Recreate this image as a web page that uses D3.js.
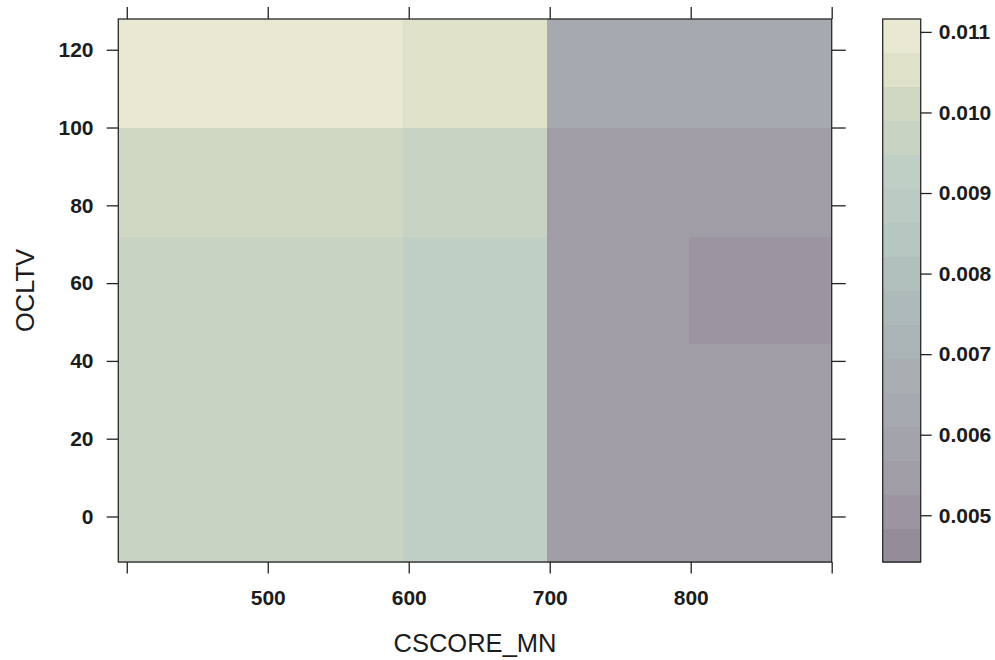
<!DOCTYPE html>
<html>
<head>
<meta charset="utf-8">
<script src="https://cdn.jsdelivr.net/npm/d3@7"></script>
<style>
  html, body { margin: 0; padding: 0; background: #ffffff; }
  svg { display: block; }
  text { font-family: "Liberation Sans", Arial, Helvetica, sans-serif; fill: #1c1c1c; }
</style>
</head>
<body>
<svg id="chart" width="995" height="660"></svg>
<script>
// ---------------- data ----------------
const xBreaks = [394, 596, 698, 799, 900];          // CSCORE_MN cell edges
const yBreaks = [-11.7, 44.5, 72, 100, 127.9];      // OCLTV cell edges
// values[row][col], row 0 = bottom
const row0 = [0.0095, 0.0093, 0.0056, 0.0056];
const row1 = [0.0095, 0.0093, 0.0056, 0.0051];
const row2 = [0.0101, 0.0097, 0.0056, 0.0056];
const row3 = [0.0110, 0.0106, 0.0064, 0.0063];
const values = [row0, row1, row2, row3];

const xTicks = [400, 500, 600, 700, 800, 900];
const xTickLabels = [500, 600, 700, 800];
const yTicks = [0, 20, 40, 60, 80, 100, 120];
const colorTicks = [0.005, 0.006, 0.007, 0.008, 0.009, 0.010, 0.011];
const colorDomain = [0.00442, 0.01116];
const palette = [
  "#958c99", "#9c94a0", "#a09da7", "#a3a3ab", "#a6a9af", "#a8aeb2",
  "#aab4b6", "#adbab9", "#b1c0bd", "#b6c6c1", "#bbcbc4", "#c0cfc5",
  "#c8d3c3", "#d0d8c4", "#dfe2c9", "#e9e8d2"
];
const xTitle = "CSCORE_MN";
const yTitle = "OCLTV";

// ---------------- layout ----------------
const svg = d3.select("#chart");
const P = { left: 118.3, right: 831.7, top: 19, bottom: 562 };
const CB = { left: 882.7, right: 920.7 };

const x = d3.scaleLinear().domain([xBreaks[0], xBreaks[xBreaks.length - 1]]).range([P.left, P.right]);
const y = d3.scaleLinear().domain([yBreaks[0], yBreaks[yBreaks.length - 1]]).range([P.bottom, P.top]);
const color = d3.scaleQuantize().domain(colorDomain).range(palette);
const cy = d3.scaleLinear().domain(colorDomain).range([P.bottom, P.top]);

// cells
const cells = [];
values.forEach((row, r) => row.forEach((v, c) => cells.push({ r, c, v })));
svg.append("g").selectAll("rect").data(cells).join("rect")
  .attr("x", d => x(xBreaks[d.c]))
  .attr("y", d => y(yBreaks[d.r + 1]))
  .attr("width", d => x(xBreaks[d.c + 1]) - x(xBreaks[d.c]) + 0.5)
  .attr("height", d => y(yBreaks[d.r]) - y(yBreaks[d.r + 1]) + 0.5)
  .attr("fill", d => color(d.v))
  .attr("shape-rendering", "crispEdges");

// axes
const fontSize = 21;
function styleAxis(g) {
  g.select(".domain").remove();
  g.selectAll(".tick line").attr("stroke", "#222").attr("stroke-width", 1.3);
  g.selectAll(".tick text").attr("font-size", fontSize).attr("font-weight", "bold").attr("fill", "#1a1a1a");
}
svg.append("g").attr("transform", `translate(0,${P.bottom})`)
  .call(d3.axisBottom(x).tickValues(xTicks).tickSize(11.5).tickPadding(16.5)
    .tickFormat(d => xTickLabels.includes(d) ? d : ""))
  .call(styleAxis);
svg.append("g").attr("transform", `translate(0,${P.top})`)
  .call(d3.axisTop(x).tickValues(xTicks).tickSize(12).tickFormat(""))
  .call(styleAxis);
svg.append("g").attr("transform", `translate(${P.left},0)`)
  .call(d3.axisLeft(y).tickValues(yTicks).tickSize(11.6).tickPadding(13.2))
  .call(styleAxis);
svg.append("g").attr("transform", `translate(${P.right},0)`)
  .call(d3.axisRight(y).tickValues(yTicks).tickSize(14).tickFormat(""))
  .call(styleAxis);

// panel border
svg.append("rect")
  .attr("x", P.left).attr("y", P.top)
  .attr("width", P.right - P.left).attr("height", P.bottom - P.top)
  .attr("fill", "none").attr("stroke", "#2a2a2a").attr("stroke-width", 1.3);

// colorbar
const bandW = (colorDomain[1] - colorDomain[0]) / palette.length;
const bands = palette.map((c, i) => ({ lo: colorDomain[0] + i * bandW, hi: colorDomain[0] + (i + 1) * bandW, c }));
svg.append("g").selectAll("rect").data(bands).join("rect")
  .attr("x", CB.left).attr("width", CB.right - CB.left)
  .attr("y", d => cy(d.hi)).attr("height", d => cy(d.lo) - cy(d.hi) + 0.5)
  .attr("fill", d => d.c)
  .attr("shape-rendering", "crispEdges");
svg.append("rect")
  .attr("x", CB.left).attr("y", P.top)
  .attr("width", CB.right - CB.left).attr("height", P.bottom - P.top)
  .attr("fill", "none").attr("stroke", "#2a2a2a").attr("stroke-width", 1.3);
svg.append("g").attr("transform", `translate(${CB.right},0)`)
  .call(d3.axisRight(cy).tickValues(colorTicks).tickSize(11).tickPadding(7).tickFormat(d3.format(".3f")))
  .call(styleAxis);

// titles
svg.append("text")
  .attr("x", (P.left + P.right) / 2).attr("y", 651.5)
  .attr("text-anchor", "middle").attr("font-size", 25.5)
  .text(xTitle);
svg.append("text")
  .attr("transform", `translate(33.5,${(P.top + P.bottom) / 2}) rotate(-90)`)
  .attr("text-anchor", "middle").attr("font-size", 25.5)
  .text(yTitle);
</script>
</body>
</html>
